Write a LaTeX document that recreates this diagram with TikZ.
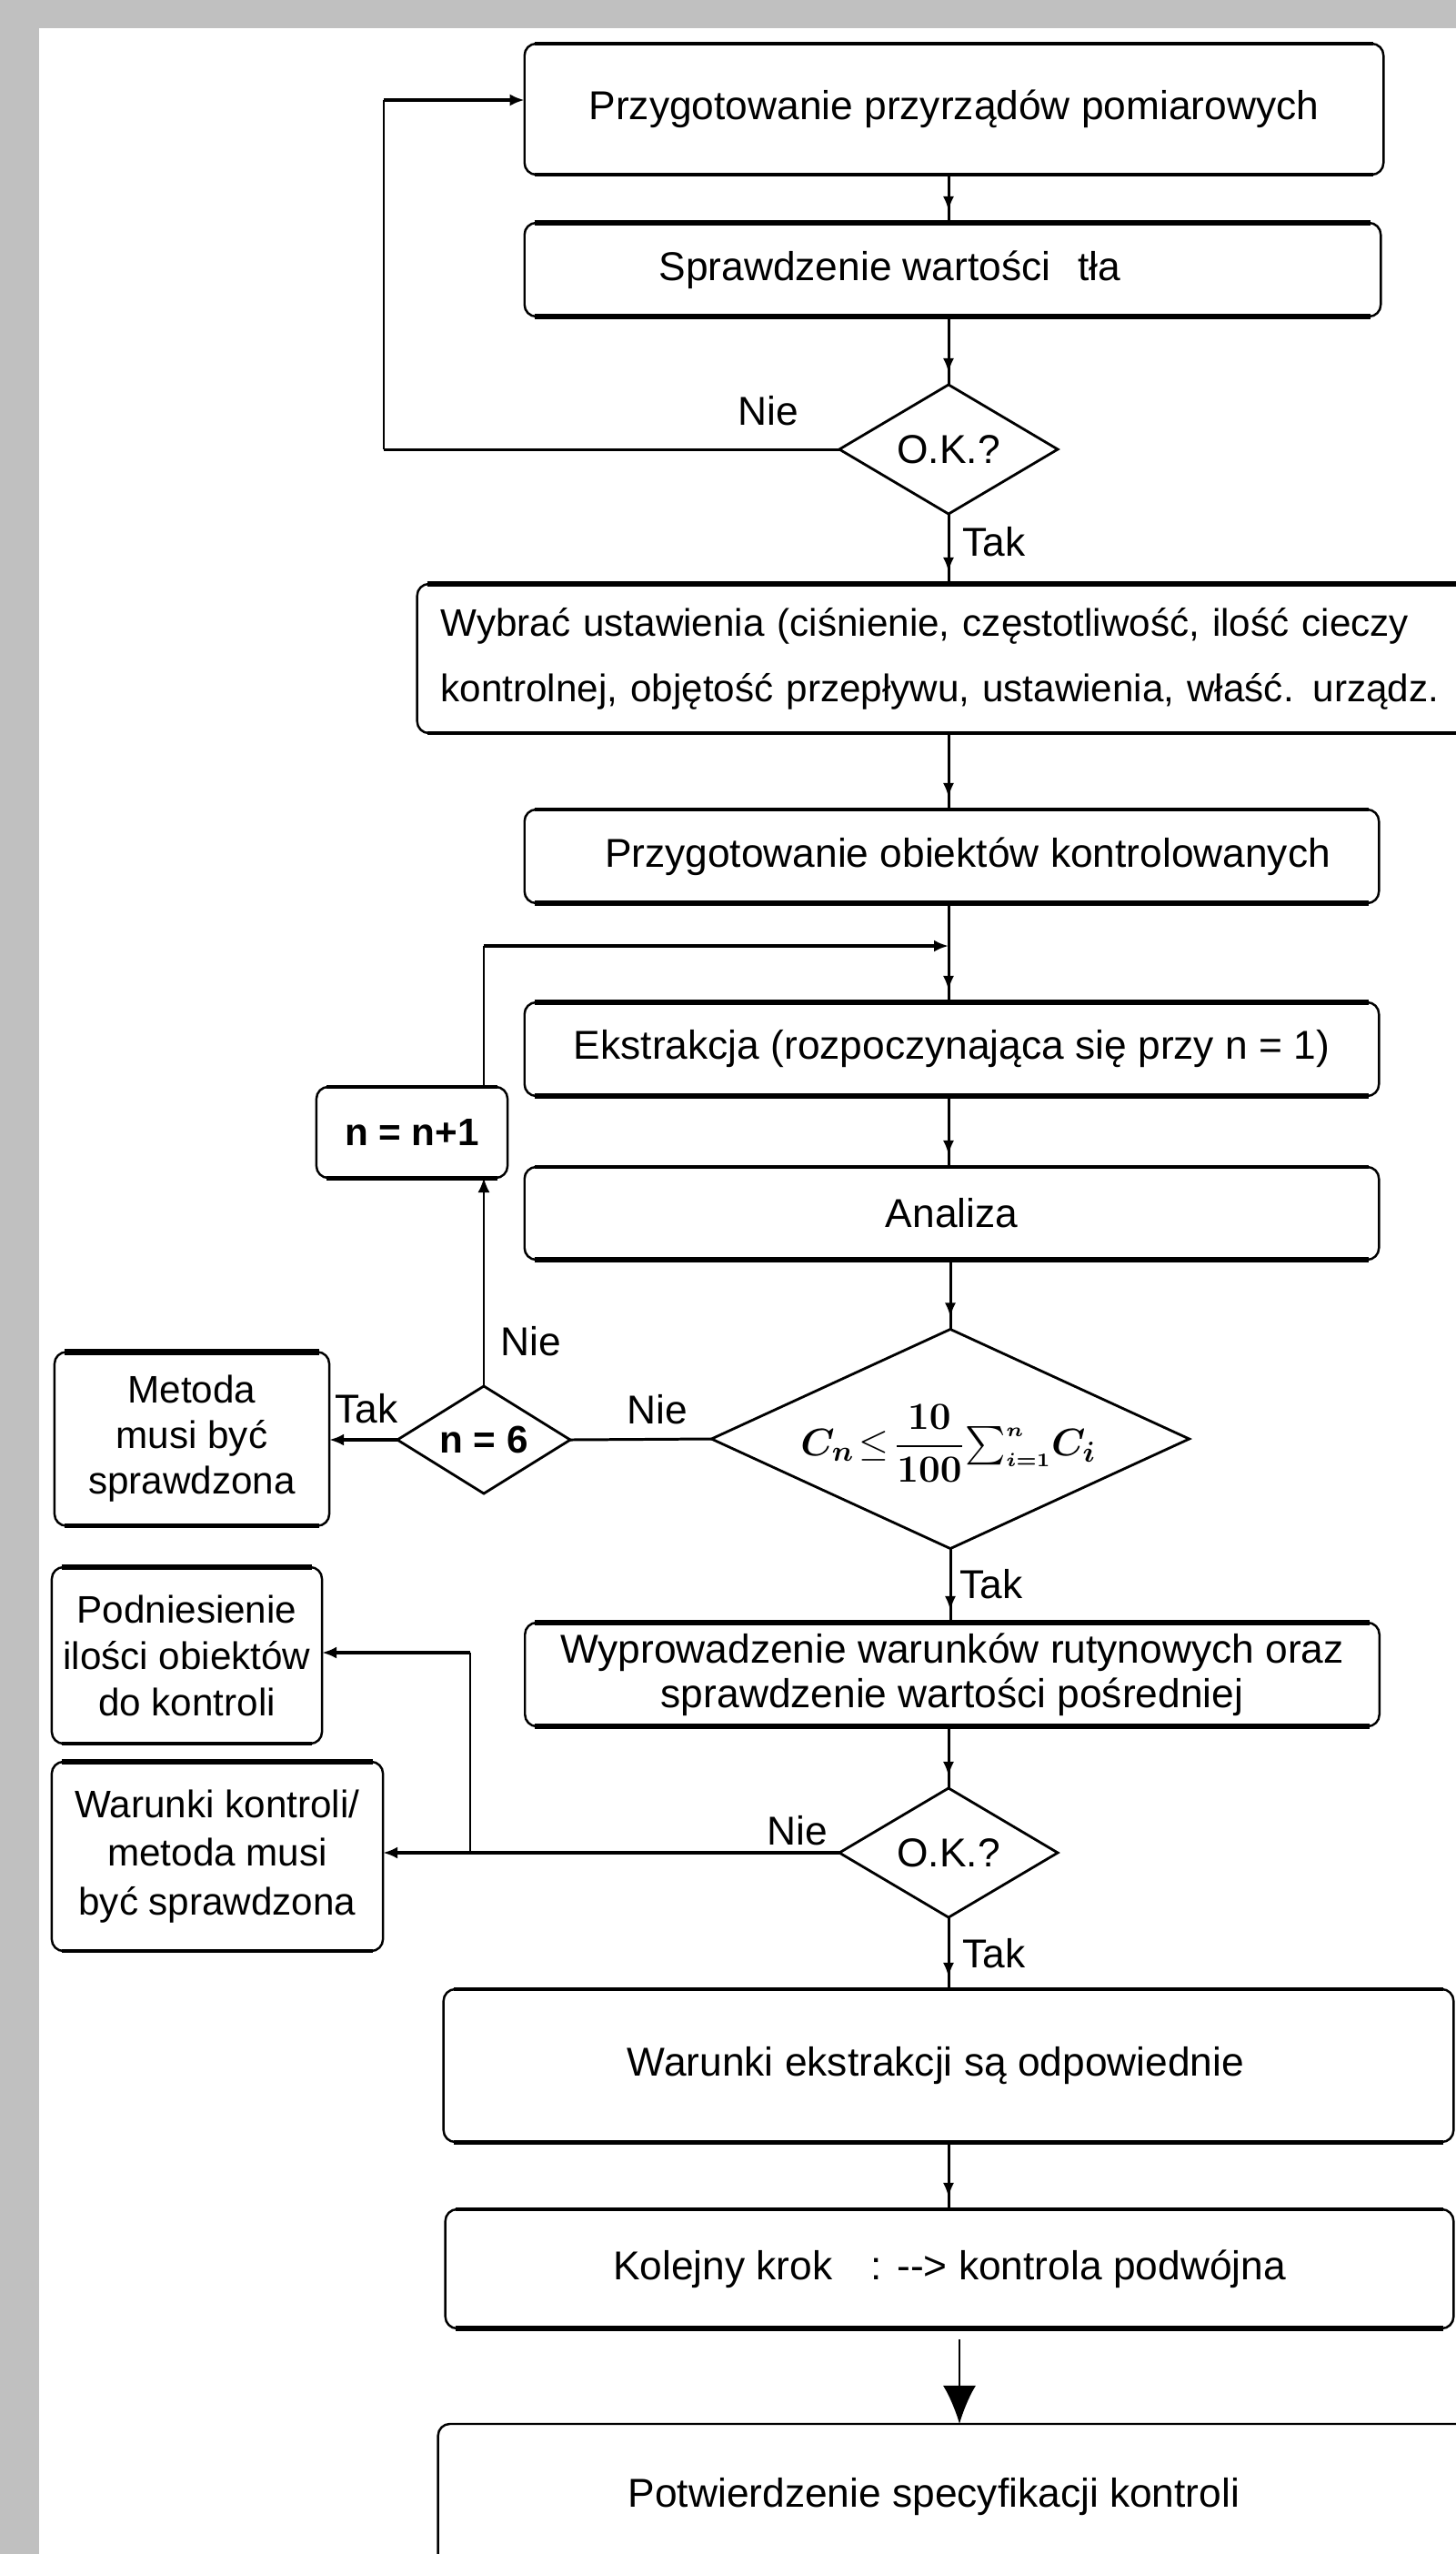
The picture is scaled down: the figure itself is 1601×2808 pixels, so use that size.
\documentclass[tikz,border=0pt]{standalone}
\usepackage{amsmath}
\usepackage{bm}
\usepackage[no-math]{fontspec}
\setmainfont{Liberation Sans}
\usetikzlibrary{shapes.geometric,arrows.meta,decorations.markings}
\definecolor{bggray}{HTML}{C0C0C0}
\newcommand\rims[3]{%
  \draw[line width=#1] ([xshift=0.11cm]#3.north west) -- ([xshift=-0.11cm]#3.north east);
  \draw[line width=#2] ([xshift=0.11cm]#3.south west) -- ([xshift=-0.11cm]#3.south east);}
\newcommand\critformula{\ensuremath{\displaystyle \bm{C}_{\bm{n}}\!\le\!\frac{\mathbf{10}}{\mathbf{100}}{\textstyle\sum\nolimits_{\scriptscriptstyle\bm{i=1}}^{\scriptscriptstyle\bm{n}}}\bm{C}_{\bm{i}}}}
\tikzset{
  box/.style={draw, line width=0.7pt, rounded corners=0.13cm, outer sep=0pt, inner sep=0pt,
    font=\fontsize{12.6}{15}\selectfont, align=center},
  sbox/.style={box, font=\fontsize{12}{14.5}\selectfont},
  dia/.style={draw, diamond, line width=0.8pt, outer sep=0pt, inner sep=0pt, shape aspect=1.7,
    font=\fontsize{12.6}{15}\selectfont},
  lbl/.style={inner sep=0pt, font=\fontsize{12.6}{15}\selectfont},
  cv/.style={line width=0.85pt},
  cthin/.style={line width=0.6pt},
  cthick/.style={line width=1.4pt},
  harr/.style={-{Latex[length=0.16cm,width=0.13cm]}},
  marr/.style={postaction={decorate}, decoration={markings,
    mark=at position -0.13cm with {\arrow{Latex[length=0.16cm,width=0.12cm]}}}},
}
\begin{document}
\begin{tikzpicture}[x=0.01cm,y=-0.01cm]
\fill[bggray] (0,0) rectangle (1601,2808);
\fill[white] (43,31) rectangle (1601,2808);
\useasboundingbox (0,0) rectangle (1601,2808);
\clip (0,0) rectangle (1601,2808);

% coordinates for bends
\coordinate (m) at (1043,1040);
\coordinate (lp) at (532,1040);
\coordinate (l1) at (422,110);
\coordinate (j) at (517,2037);
\coordinate (j2) at (517,1817);
\coordinate (s9) at (1055,2572);

% main column
\node[box, minimum width=9.44cm, minimum height=1.44cm] (b1) at (1049,120) {Przygotowanie przyrządów pomiarowych};
\node[box, minimum width=9.41cm, minimum height=1.03cm] (b2) at (1047.5,296.5) {Sprawdzenie wartości\hspace{0.3cm}tła\hspace*{1.38cm}};
\node[dia, minimum width=2.4cm, minimum height=1.42cm] (d1) at (1043,494) {O.K.?};
\node[box, minimum width=11.62cm, minimum height=1.64cm, text width=11.1cm, align=left, font=\fontsize{12}{15}\selectfont] (b3) at (1040,724) {\mbox{Wybrać ustawienia (ciśnienie, częstotliwość, ilość cieczy}\\[0.19cm]\mbox{kontrolnej, objętość przepływu, ustawienia, właść. urządz.}};
\node[box, minimum width=9.39cm, minimum height=1.03cm] (b4) at (1046.5,941.5) {\hspace*{0.35cm}Przygotowanie obiektów kontrolowanych};
\node[box, minimum width=9.39cm, minimum height=1.03cm] (b5) at (1046.5,1153.5) {Ekstrakcja (rozpoczynająca się przy n = 1)};
\node[box, minimum width=9.39cm, minimum height=1.02cm] (b6) at (1046.5,1334) {Analiza};
\node[dia, minimum width=5.25cm, minimum height=2.41cm] (d2) at (1045,1582) {};
\node[inner sep=0pt, font=\fontsize{12.8}{15}\selectfont] (f2) at (1043,1587) {\critformula};
\node[box, minimum width=9.39cm, minimum height=1.14cm, font=\fontsize{12.6}{14}\selectfont] (b7) at (1047,1841) {Wyprowadzenie warunków rutynowych oraz\\sprawdzenie wartości pośredniej};
\node[dia, minimum width=2.4cm, minimum height=1.42cm] (d4) at (1043,2037) {O.K.?};
\node[box, minimum width=11.10cm, minimum height=1.68cm] (b8) at (1043,2271) {Warunki ekstrakcji są odpowiednie\hspace*{0.28cm}};
\node[box, minimum width=11.08cm, minimum height=1.31cm] (b9) at (1044,2494.5) {Kolejny krok\hspace{0.3cm} : -{}-{}> kontrola podwójna};
\node[box, minimum width=12.18cm, minimum height=1.60cm] (b10) at (1091,2745) {Potwierdzenie specyfikacji kontroli\hspace*{1.28cm}};

% left column
\node[box, minimum width=2.10cm, minimum height=1.00cm, font=\fontsize{12}{14}\selectfont\bfseries] (nn) at (453,1245) {n = n+1};
\node[dia, minimum width=1.90cm, minimum height=1.18cm, font=\fontsize{12}{14}\selectfont\bfseries] (d3) at (532,1583) {n = 6};
\node[sbox, minimum width=3.02cm, minimum height=1.91cm, font=\fontsize{12}{14.2}\selectfont] (met) at (211,1582) {Metoda\\musi być\\sprawdzona};
\node[sbox, minimum width=2.97cm, minimum height=1.94cm, font=\fontsize{12}{14.5}\selectfont] (p) at (205.5,1820) {Podniesienie\\ilości obiektów\\do kontroli};
\node[sbox, minimum width=3.64cm, minimum height=2.08cm, font=\fontsize{12}{15.2}\selectfont] (w) at (239,2041) {Warunki kontroli/\\metoda musi\\być sprawdzona};

% thick rims
\rims{0.9pt}{1.2pt}{b1}
\rims{1.6pt}{1.6pt}{b2}
\rims{1.8pt}{1.2pt}{b3}
\rims{1.2pt}{1.6pt}{b4}
\rims{1.6pt}{1.5pt}{b5}
\rims{1.4pt}{1.6pt}{b6}
\rims{1.8pt}{1.6pt}{b7}
\rims{1.4pt}{1.4pt}{b8}
\rims{1.2pt}{1.6pt}{b9}
\rims{0.8pt}{0.8pt}{b10}
\rims{1.2pt}{1.4pt}{nn}
\rims{1.8pt}{1.2pt}{met}
\rims{1.8pt}{1.2pt}{p}
\rims{1.6pt}{1.2pt}{w}

% connectors
\draw[cv,marr] (b1.south -| m) -- (b2.north -| m);
\draw[cv,marr] (b2.south -| m) -- (d1.north);
\draw[cv] (d1.west) -- (d1.west -| l1);
\draw[cthin] (d1.west -| l1) -- (l1);
\draw[cthick,harr] (l1) -- (l1 -| b1.west);
\draw[cv,marr] (d1.south) -- (b3.north -| m);
\draw[cv,marr] (b3.south -| m) -- (b4.north -| m);
\draw[cv] (b4.south -| m) -- (m);
\draw[cv,marr] (m) -- (b5.north -| m);
\draw[cv,marr] (b5.south -| m) -- (b6.north -| m);
\draw[cv,marr] (b6.south -| d2) -- (d2.north);
\draw[cv,marr] (d2.south) -- (b7.north -| d2);
\draw[cv] (d2.west) -- (d3.east);
\draw[cthin,harr] (d3.north) -- (d3.north |- nn.south);
\draw[cthin] (nn.north -| lp) -- (lp);
\draw[cthick,harr] (lp) -- (m);
\draw[cthick,harr] (d3.west) -- (d3.west -| met.east);
\draw[cv,marr] (b7.south -| m) -- (d4.north);
\draw[cthick,harr] (d4.west) -- (d4.west -| w.east);
\draw[cthin] (j) -- (j2);
\draw[cthick,harr] (j2) -- (j2 -| p.east);
\draw[cv,marr] (d4.south) -- (b8.north);
\draw[cv,marr] (b8.south) -- (b9.north -| b8.south);
\draw[line width=0.7pt,-{Latex[length=0.42cm,width=0.36cm]}] (s9) -- (s9 |- b10.north);

% labels
\node[lbl] (nie1) at (845,452) {Nie};
\node[lbl] (tak1) at (1093,596) {Tak};
\node[lbl] (nie2) at (723,1550) {Nie};
\node[lbl] (nie3) at (584,1475) {Nie};
\node[lbl] (tak2) at (403,1549) {Tak};
\node[lbl] (tak3) at (1090,1742) {Tak};
\node[lbl] (nie4) at (877,2013) {Nie};
\node[lbl] (tak4) at (1093,2148) {Tak};
\end{tikzpicture}
\end{document}
